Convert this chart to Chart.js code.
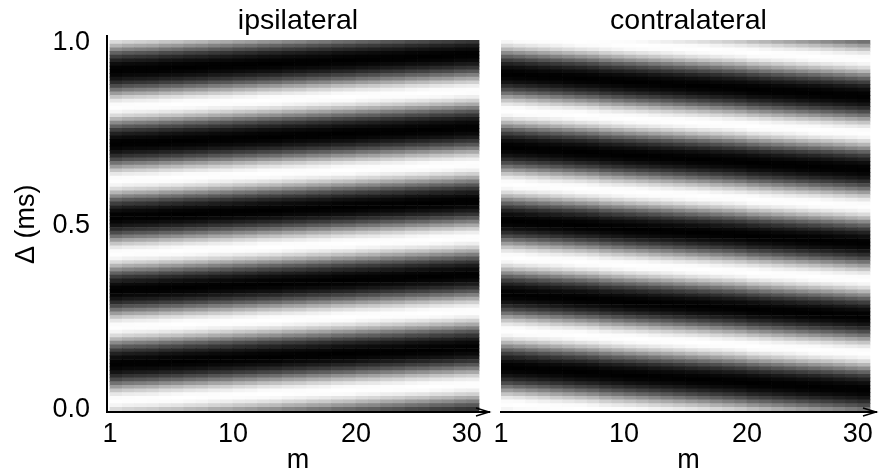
<!DOCTYPE html>
<html lang="en">
<head>
<meta charset="UTF-8">
<title>ipsilateral / contralateral</title>
<script src="https://cdn.jsdelivr.net/npm/chart.js@4.4.0/dist/chart.umd.min.js"></script>
<style>
    body { margin: 0; background: #fff; }
    .panel { position: absolute; top: 0; height: 474px; }
</style>
</head>
<body>
<div class="panel" style="left:0;width:495px"><canvas id="ipsiChart"></canvas></div>
<div class="panel" style="left:495px;width:384px"><canvas id="contraChart"></canvas></div>

<script>
    // columns (m) and rows (delta, ms)
    const mValues = [1, 2, 3, 4, 5, 6, 7, 8, 9, 10, 11, 12, 13, 14, 15,
        16, 17, 18, 19, 20, 21, 22, 23, 24, 25, 26, 27, 28, 29, 30];
    const deltaValues = [0.00, 0.01, 0.02, 0.03, 0.04, 0.05, 0.06, 0.07, 0.08, 0.09,
        0.10, 0.11, 0.12, 0.13, 0.14, 0.15, 0.16, 0.17, 0.18, 0.19,
        0.20, 0.21, 0.22, 0.23, 0.24, 0.25, 0.26, 0.27, 0.28, 0.29,
        0.30, 0.31, 0.32, 0.33, 0.34, 0.35, 0.36, 0.37, 0.38, 0.39,
        0.40, 0.41, 0.42, 0.43, 0.44, 0.45, 0.46, 0.47, 0.48, 0.49,
        0.50, 0.51, 0.52, 0.53, 0.54, 0.55, 0.56, 0.57, 0.58, 0.59,
        0.60, 0.61, 0.62, 0.63, 0.64, 0.65, 0.66, 0.67, 0.68, 0.69,
        0.70, 0.71, 0.72, 0.73, 0.74, 0.75, 0.76, 0.77, 0.78, 0.79,
        0.80, 0.81, 0.82, 0.83, 0.84, 0.85, 0.86, 0.87, 0.88, 0.89,
        0.90, 0.91, 0.92, 0.93, 0.94, 0.95, 0.96, 0.97, 0.98, 0.99, 1.00];

    // stripes repeat every 0.2 ms
    const bandPeriod = 0.2;
    // gray level across one period, starting at a dark band centre, 0.01 ms steps
    const bandProfile = [0, 4, 16, 38, 68, 105, 148, 190, 226, 250,
        255, 250, 226, 190, 148, 105, 68, 38, 16, 4];

    // delta of the lowest dark band centre in each column
    const ipsiDarkBand = [0.122, 0.124, 0.125, 0.126, 0.128, 0.129, 0.131, 0.132, 0.134, 0.135,
        0.137, 0.138, 0.140, 0.141, 0.143, 0.144, 0.146, 0.147, 0.149, 0.150,
        0.152, 0.153, 0.155, 0.156, 0.158, 0.159, 0.161, 0.162, 0.164, 0.165];
    const contraDarkBand = [0.112, 0.110, 0.108, 0.106, 0.104, 0.102, 0.100, 0.098, 0.095, 0.093,
        0.091, 0.089, 0.087, 0.085, 0.083, 0.081, 0.079, 0.077, 0.075, 0.073,
        0.070, 0.068, 0.066, 0.064, 0.062, 0.060, 0.058, 0.056, 0.054, 0.052];

    const xTickValues = [0, 10, 20, 29];
    const xTickLabels = ['1', '10', '20', '30'];
    const yTickValues = [0, 0.5, 1];

    const family = "'Liberation Sans', Arial, sans-serif";
    const font = {family: family, size: 27};

    function grayAt(delta, darkCentre) {
        let p = (delta - darkCentre) % bandPeriod;
        if (p < 0) p += bandPeriod;
        const f = p / 0.01;
        const i = Math.floor(f) % bandProfile.length;
        const j = (i + 1) % bandProfile.length;
        const t = f - Math.floor(f);
        const g = Math.round(bandProfile[i] * (1 - t) + bandProfile[j] * t);
        return 'rgb(' + g + ',' + g + ',' + g + ')';
    }

    function buildRows(darkBand) {
        return deltaValues.map(d => ({
            data: mValues.map(m => ({x: m - 0.5, y: [d - 0.005, d + 0.005]})),
            backgroundColor: mValues.map((m, i) => grayAt(d, darkBand[i])),
            borderWidth: 0
        }));
    }

    // open arrow head at the end of the m axis
    const arrowPlugin = {
        id: 'arrow',
        afterDraw(chart) {
            const ctx = chart.ctx;
            const a = chart.chartArea;
            ctx.save();
            ctx.strokeStyle = '#000';
            ctx.lineWidth = 1.5;
            ctx.beginPath();
            ctx.moveTo(a.right - 13, a.bottom - 4);
            ctx.lineTo(a.right, a.bottom);
            ctx.lineTo(a.right - 13, a.bottom + 4);
            ctx.stroke();
            ctx.restore();
        }
    };

    function makeOptions(title, showY, xMin, xMax, pad) {
        return {
            animation: false,
            responsive: true,
            maintainAspectRatio: false,
            layout: {padding: pad},
            datasets: {bar: {grouped: false, barPercentage: 1, categoryPercentage: 1}},
            plugins: {
                legend: {display: false},
                tooltip: {enabled: false},
                title: {display: true, text: title, color: '#000', fullSize: false,
                    font: {family: family, size: 28.5, weight: 'normal', lineHeight: 1.1},
                    padding: {top: 5, bottom: 0}}
            },
            scales: {
                x: {
                    type: 'linear', min: xMin, max: xMax, offset: false,
                    grid: {display: false, drawTicks: false, offset: false},
                    border: {display: true, color: '#000', width: 2, z: 1},
                    afterBuildTicks: s => { s.ticks = xTickValues.map(v => ({value: v})); },
                    afterFit: s => { s.height = 62; s.paddingLeft = 0; s.paddingRight = 0; },
                    ticks: {color: '#000', font: font, padding: 6, maxRotation: 0, autoSkip: false,
                        callback: (v, i) => xTickLabels[i]},
                    title: {display: true, text: 'm', color: '#000', font: font, padding: {top: 0, bottom: -3}}
                },
                y: {
                    display: showY,
                    min: -0.008, max: 1.016,
                    grid: {display: false, drawTicks: false},
                    border: {display: true, color: '#000', width: 2, z: 1},
                    afterBuildTicks: s => { s.ticks = yTickValues.map(v => ({value: v})); },
                    afterFit: s => { s.width = showY ? 107 : 0; s.paddingTop = 0; s.paddingBottom = 0; },
                    ticks: {color: '#000', font: font, padding: 17,
                        callback: v => v.toFixed(1)},
                    title: {display: true, text: 'Δ (ms)', color: '#000', font: font, padding: {top: 10, bottom: 0}}
                }
            }
        };
    }

    new Chart(document.getElementById('ipsiChart'), {
        type: 'bar',
        data: {datasets: buildRows(ipsiDarkBand)},
        options: makeOptions('ipsilateral', true, -0.244, 30.81, {left: 0, right: 6, top: 0, bottom: 0}),
        plugins: [arrowPlugin]
    });

    new Chart(document.getElementById('contraChart'), {
        type: 'bar',
        data: {datasets: buildRows(contraDarkBand)},
        options: makeOptions('contralateral', false, 0, 30.49, {left: 6, right: 3, top: 0, bottom: 0}),
        plugins: [arrowPlugin]
    });
</script>
</body>
</html>
